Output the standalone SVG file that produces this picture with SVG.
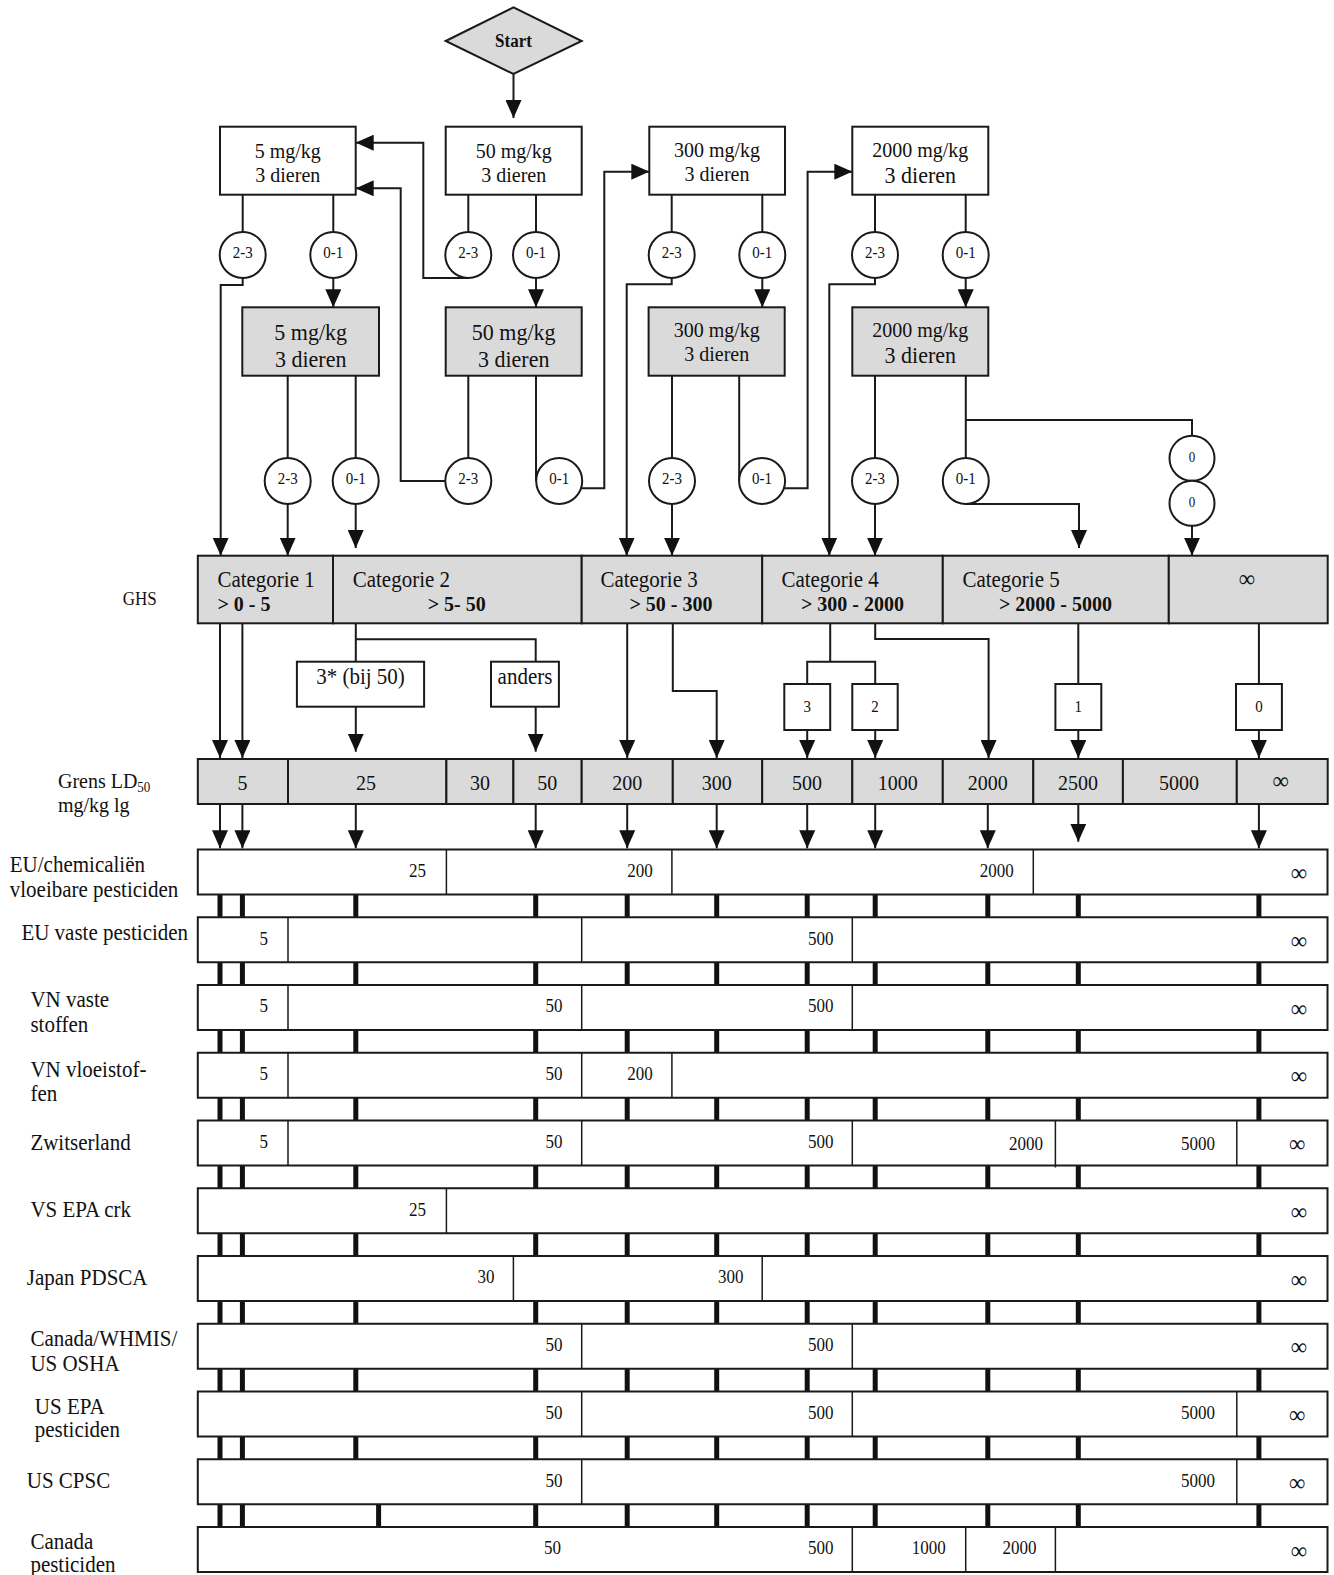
<svg xmlns="http://www.w3.org/2000/svg" xmlns:xlink="http://www.w3.org/1999/xlink" width="1334" height="1575" viewBox="0 0 1334 1575">
<style>
text { font-family: "Liberation Serif", "Times New Roman", serif; fill:#111; transform-box: fill-box; transform-origin: center; transform: scaleY(1.08); }
.m { text-anchor: middle; }
.e { text-anchor: end; }
.b { font-weight: bold; }
.f13 { font-size:13px; } .f15 { font-size:15px; } .f17 { font-size:17px; } .f18 { font-size:18px; }
.f20 { font-size:20px; } .f21 { font-size:21px; } .f22 { font-size:22px; }
.inf { font-size:23px; }
.box { fill:#fff; stroke:#1a1a1a; stroke-width:2; }
.gray { fill:#dadada; stroke:#1a1a1a; stroke-width:2; }
.c { fill:#fff; stroke:#1a1a1a; stroke-width:2; }
.ln { fill:none; stroke:#1a1a1a; stroke-width:2; }
.ar { fill:none; stroke:#1a1a1a; stroke-width:2; marker-end:url(#ah); }
.dv { stroke:#1a1a1a; stroke-width:1.5; }
.bar { fill:none; stroke:#111; stroke-width:5; }
</style>
<defs>
<marker id="ah" viewBox="0 0 18 16" refX="18" refY="8" markerWidth="18" markerHeight="16" markerUnits="userSpaceOnUse" orient="auto"><path d="M0,0L18,8L0,16z" fill="#111"/></marker>
<path id="bars1" class="bar" d="M220 0V22.75M242.4 0V22.75M355.8 0V22.75M535.7 0V22.75M627.2 0V22.75M716.7 0V22.75M807.2 0V22.75M875.2 0V22.75M987.8 0V22.75M1078.3 0V22.75M1258.9 0V22.75"/>
<path id="bars2" class="bar" d="M220 0V22.75M242.4 0V22.75M378.6 0V22.75M535.7 0V22.75M627.2 0V22.75M716.7 0V22.75M807.2 0V22.75M875.2 0V22.75M987.8 0V22.75M1078.3 0V22.75M1258.9 0V22.75"/>
</defs>
<rect width="1334" height="1575" fill="#fff"/>

<g id="connectors">
<path class="ar" d="M513.5 74V118"/>
<path class="ln" d="M242.7 194.7V232M333.3 194.7V232M468.3 194.7V232M536 194.7V232M671.7 194.7V232M762.3 194.7V232M875 194.7V232M965.7 194.7V232"/>
<path class="ar" d="M242.7 278V285H220.7V555.7"/>
<path class="ar" d="M333.3 278V307.3"/>
<path class="ar" d="M468.3 278H423.3V142.7H355.7"/>
<path class="ar" d="M536 278V307.3"/>
<path class="ar" d="M671.7 278V284.3H626.7V555.7"/>
<path class="ar" d="M762.3 278V307.3"/>
<path class="ar" d="M875 278V284.3H829.3V555.7"/>
<path class="ar" d="M965.7 278V307.3"/>
<path class="ln" d="M287.7 375.7V458M355.7 375.7V458M468.3 375.7V458M536 375.7V481M672 375.7V458M739.2 375.7V481M875 375.7V458M965.8 375.7V458M965.8 420H1192V435.8"/>
<path class="ar" d="M287.7 504V555.7"/>
<path class="ar" d="M355.7 504V548"/>
<path class="ar" d="M445.3 481H400.7V188.3H355.7"/>
<path class="ar" d="M581.5 488.3H604.3V171.7H649.3"/>
<path class="ar" d="M672 504V555.7"/>
<path class="ar" d="M784.2 488.3H807.6V171.7H852.3"/>
<path class="ar" d="M875 504V555.7"/>
<path class="ar" d="M965.8 504H1079V548"/>
<path class="ar" d="M1192 525.8V555.7"/>
<path class="ar" d="M220 623.3V758"/>
<path class="ar" d="M242.4 623.3V758"/>
<path class="ln" d="M355.8 623.3V661.7M355.8 639.3H535.7V661.7"/>
<path class="ar" d="M355.8 706.7V751.7"/>
<path class="ar" d="M535.7 706.7V751.7"/>
<path class="ar" d="M627.2 623.3V758"/>
<path class="ar" d="M672.8 623.3V691H716.7V758"/>
<path class="ln" d="M830.2 623.3V661.7M807.2 684V661.7H875.2V684"/>
<path class="ar" d="M807.2 730V758"/>
<path class="ar" d="M875.2 730V758"/>
<path class="ar" d="M875.2 623.3V639H988.6V758"/>
<path class="ln" d="M1078.3 623.3V684M1258.9 623.3V684"/>
<path class="ar" d="M1078.3 730V758"/>
<path class="ar" d="M1258.9 730V758"/>
<path class="ar" d="M220 804V848.3"/>
<path class="ar" d="M242.4 804V848.3"/>
<path class="ar" d="M355.8 804V848.3"/>
<path class="ar" d="M535.7 804V848.3"/>
<path class="ar" d="M627.2 804V848.3"/>
<path class="ar" d="M716.7 804V848.3"/>
<path class="ar" d="M807.2 804V848.3"/>
<path class="ar" d="M875.2 804V848.3"/>
<path class="ar" d="M987.8 804V848.3"/>
<path class="ar" d="M1078.3 804V841.7"/>
<path class="ar" d="M1258.9 804V848.3"/>
</g>

<g id="bars">
<use xlink:href="#bars1" y="894.5"/>
<use xlink:href="#bars1" y="962.25"/>
<use xlink:href="#bars1" y="1030"/>
<use xlink:href="#bars1" y="1097.75"/>
<use xlink:href="#bars1" y="1165.5"/>
<use xlink:href="#bars1" y="1233.25"/>
<use xlink:href="#bars1" y="1301"/>
<use xlink:href="#bars1" y="1368.75"/>
<use xlink:href="#bars1" y="1436.5"/>
<use xlink:href="#bars2" y="1504.25"/>
</g>

<g id="start">
<polygon class="gray" points="445.7,41 513.5,7.3 581.7,41 513.5,74"/>
<text class="f17 b m" x="513.5" y="46.7">Start</text>
</g>

<g id="n5">
<rect class="box" x="220" y="126.7" width="135.7" height="68"/>
<text class="f20 m" x="287.8" y="157">5 mg/kg</text>
<text class="f20 m" x="287.8" y="181">3 dieren</text>
</g>
<g id="n50">
<rect class="box" x="445.7" y="126.7" width="136" height="68"/>
<text class="f20 m" x="513.7" y="157">50 mg/kg</text>
<text class="f20 m" x="513.7" y="181">3 dieren</text>
</g>
<g id="n300">
<rect class="box" x="649.3" y="126.7" width="135.7" height="68"/>
<text class="f20 m" x="717" y="156.5">300 mg/kg</text>
<text class="f20 m" x="717" y="180.5">3 dieren</text>
</g>
<g id="n2000">
<rect class="box" x="852.3" y="126.7" width="136" height="68"/>
<text class="f20 m" x="920.3" y="156.5">2000 mg/kg</text>
<text class="f22 m" x="920.3" y="182">3 dieren</text>
</g>

<g id="g5">
<rect class="gray" x="242.3" y="307.3" width="136.7" height="68.4"/>
<text class="f22 m" x="310.7" y="339">5 mg/kg</text>
<text class="f22 m" x="310.7" y="366">3 dieren</text>
</g>
<g id="g50">
<rect class="gray" x="445.7" y="307.3" width="136" height="68.4"/>
<text class="f22 m" x="513.7" y="339">50 mg/kg</text>
<text class="f22 m" x="513.7" y="366">3 dieren</text>
</g>
<g id="g300">
<rect class="gray" x="648.6" y="307.3" width="136.1" height="68.4"/>
<text class="f20 m" x="716.7" y="336.5">300 mg/kg</text>
<text class="f20 m" x="716.7" y="360.5">3 dieren</text>
</g>
<g id="g2000">
<rect class="gray" x="852.3" y="307.3" width="136" height="68.4"/>
<text class="f20 m" x="920.3" y="336">2000 mg/kg</text>
<text class="f22 m" x="920.3" y="362">3 dieren</text>
</g>

<g id="circles-top">
<circle class="c" cx="242.7" cy="255" r="23"/><text class="f15 m" x="242.7" y="258">2-3</text>
<circle class="c" cx="333.3" cy="255" r="23"/><text class="f15 m" x="333.3" y="258">0-1</text>
<circle class="c" cx="468.3" cy="255" r="23"/><text class="f15 m" x="468.3" y="258">2-3</text>
<circle class="c" cx="536" cy="255" r="23"/><text class="f15 m" x="536" y="258">0-1</text>
<circle class="c" cx="671.7" cy="255" r="23"/><text class="f15 m" x="671.7" y="258">2-3</text>
<circle class="c" cx="762.3" cy="255" r="23"/><text class="f15 m" x="762.3" y="258">0-1</text>
<circle class="c" cx="875" cy="255" r="23"/><text class="f15 m" x="875" y="258">2-3</text>
<circle class="c" cx="965.7" cy="255" r="23"/><text class="f15 m" x="965.7" y="258">0-1</text>
</g>
<g id="circles-bottom">
<circle class="c" cx="287.7" cy="481" r="23"/><text class="f15 m" x="287.7" y="484">2-3</text>
<circle class="c" cx="355.7" cy="481" r="23"/><text class="f15 m" x="355.7" y="484">0-1</text>
<circle class="c" cx="468.3" cy="481" r="23"/><text class="f15 m" x="468.3" y="484">2-3</text>
<circle class="c" cx="559.2" cy="481" r="23"/><text class="f15 m" x="559.2" y="484">0-1</text>
<circle class="c" cx="672" cy="481" r="23"/><text class="f15 m" x="672" y="484">2-3</text>
<circle class="c" cx="762.1" cy="481" r="23"/><text class="f15 m" x="762.1" y="484">0-1</text>
<circle class="c" cx="875" cy="481" r="23"/><text class="f15 m" x="875" y="484">2-3</text>
<circle class="c" cx="965.8" cy="481" r="23"/><text class="f15 m" x="965.8" y="484">0-1</text>
<circle class="c" cx="1192" cy="458.3" r="22.5"/><text class="f13 m" x="1192" y="461.5">0</text>
<circle class="c" cx="1192" cy="503.3" r="22.5"/><text class="f13 m" x="1192" y="506.5">0</text>
</g>

<g id="ghs">
<text class="f17" x="122.8" y="605">GHS</text>
<rect class="gray" x="197.8" y="555.7" width="135.2" height="67.6"/>
<rect class="gray" x="333" y="555.7" width="248.7" height="67.6"/>
<rect class="gray" x="581.7" y="555.7" width="180.5" height="67.6"/>
<rect class="gray" x="762.2" y="555.7" width="180.6" height="67.6"/>
<rect class="gray" x="942.8" y="555.7" width="226" height="67.6"/>
<rect class="gray" x="1168.8" y="555.7" width="158.9" height="67.6"/>
<text class="f21" x="217.4" y="586.7">Categorie 1</text>
<text class="f20 b" x="217.4" y="610">&gt; 0 - 5</text>
<text class="f21" x="352.7" y="586.7">Categorie 2</text>
<text class="f20 b" x="427.7" y="610">&gt; 5- 50</text>
<text class="f21" x="600.4" y="586.7">Categorie 3</text>
<text class="f20 b" x="629.5" y="610">&gt; 50 - 300</text>
<text class="f21" x="781.4" y="586.7">Categorie 4</text>
<text class="f20 b" x="801" y="610">&gt; 300 - 2000</text>
<text class="f21" x="962.4" y="586.7">Categorie 5</text>
<text class="f20 b" x="999" y="610">&gt; 2000 - 5000</text>
<text class="inf m" x="1247" y="586">∞</text>
</g>

<g id="splits">
<rect class="box" x="296.9" y="661.7" width="127.2" height="45"/>
<text class="f21 m" x="360.5" y="683">3* (bij 50)</text>
<rect class="box" x="491" y="661.7" width="67.9" height="45"/>
<text class="f21 m" x="525" y="683">anders</text>
<rect class="box" x="784.3" y="684" width="45.9" height="46"/>
<text class="f15 m" x="807.2" y="711.7">3</text>
<rect class="box" x="852.3" y="684" width="45.4" height="46"/>
<text class="f15 m" x="875" y="711.7">2</text>
<rect class="box" x="1055.4" y="684" width="45.9" height="46"/>
<text class="f15 m" x="1078.3" y="711.7">1</text>
<rect class="box" x="1236" y="684" width="45.9" height="46"/>
<text class="f15 m" x="1258.9" y="711.7">0</text>
</g>

<g id="ld50">
<text class="f20" x="58" y="788">Grens LD<tspan class="f13" dy="3">50</tspan></text>
<text class="f20" x="58" y="811.7">mg/kg lg</text>
<rect class="gray" x="197.8" y="759" width="90.2" height="45"/>
<rect class="gray" x="288" y="759" width="158.4" height="45"/>
<rect class="gray" x="446.4" y="759" width="67" height="45"/>
<rect class="gray" x="513.4" y="759" width="68.3" height="45"/>
<rect class="gray" x="581.7" y="759" width="91.1" height="45"/>
<rect class="gray" x="672.8" y="759" width="89.4" height="45"/>
<rect class="gray" x="762.2" y="759" width="90.1" height="45"/>
<rect class="gray" x="852.3" y="759" width="90.5" height="45"/>
<rect class="gray" x="942.8" y="759" width="90.5" height="45"/>
<rect class="gray" x="1033.3" y="759" width="89.6" height="45"/>
<rect class="gray" x="1122.9" y="759" width="113.9" height="45"/>
<rect class="gray" x="1236.8" y="759" width="90.9" height="45"/>
<text class="f20 m" x="242.4" y="789">5</text>
<text class="f20 m" x="366" y="789">25</text>
<text class="f20 m" x="480" y="789">30</text>
<text class="f20 m" x="547.3" y="789">50</text>
<text class="f20 m" x="627.2" y="789">200</text>
<text class="f20 m" x="716.7" y="789">300</text>
<text class="f20 m" x="807" y="789">500</text>
<text class="f20 m" x="897.7" y="789">1000</text>
<text class="f20 m" x="987.8" y="789">2000</text>
<text class="f20 m" x="1078" y="789">2500</text>
<text class="f20 m" x="1179" y="789">5000</text>
<text class="inf m" x="1280.6" y="788">∞</text>
</g>

<g id="r1">
<text class="f21" x="9.8" y="871.7">EU/chemicaliën</text>
<text class="f21" x="9.8" y="896">vloeibare pesticiden</text>
<rect class="box" x="197.8" y="849.5" width="1129.7" height="45"/>
<path class="dv" d="M446.4 849.5v45M671.9 849.5v45M1033.3 849.5v45"/>
<text class="f17 e" x="426" y="876.5">25</text>
<text class="f17 e" x="652.7" y="876.5">200</text>
<text class="f17 e" x="1013.7" y="876.5">2000</text>
<text class="inf m" x="1299" y="880.5">∞</text>
</g>
<g id="r2">
<text class="f21" x="21.4" y="939.3">EU vaste pesticiden</text>
<rect class="box" x="197.8" y="917.25" width="1129.7" height="45"/>
<path class="dv" d="M288 917.25v45M581.7 917.25v45M852.3 917.25v45"/>
<text class="f17 e" x="268" y="944.25">5</text>
<text class="f17 e" x="833.5" y="944.25">500</text>
<text class="inf m" x="1299" y="948.25">∞</text>
</g>
<g id="r3">
<text class="f21" x="30.4" y="1006.7">VN vaste</text>
<text class="f21" x="30.4" y="1031.7">stoffen</text>
<rect class="box" x="197.8" y="985" width="1129.7" height="45"/>
<path class="dv" d="M288 985v45M581.7 985v45M852.3 985v45"/>
<text class="f17 e" x="268" y="1012">5</text>
<text class="f17 e" x="562.5" y="1012">50</text>
<text class="f17 e" x="833.5" y="1012">500</text>
<text class="inf m" x="1299" y="1016">∞</text>
</g>
<g id="r4">
<text class="f21" x="30.4" y="1076.7">VN vloeistof-</text>
<text class="f21" x="30.4" y="1100">fen</text>
<rect class="box" x="197.8" y="1052.75" width="1129.7" height="45"/>
<path class="dv" d="M288 1052.75v45M581.7 1052.75v45M671.9 1052.75v45"/>
<text class="f17 e" x="268" y="1079.75">5</text>
<text class="f17 e" x="562.5" y="1079.75">50</text>
<text class="f17 e" x="652.7" y="1079.75">200</text>
<text class="inf m" x="1299" y="1083.75">∞</text>
</g>
<g id="r5">
<text class="f21" x="30.4" y="1149.3">Zwitserland</text>
<rect class="box" x="197.8" y="1120.5" width="1129.7" height="45"/>
<path class="dv" d="M288 1120.5v45M581.7 1120.5v45M852.3 1120.5v45M1055.4 1120.5v47M1236.8 1120.5v45"/>
<text class="f17 e" x="268" y="1147.5">5</text>
<text class="f17 e" x="562.5" y="1147.5">50</text>
<text class="f17 e" x="833.5" y="1147.5">500</text>
<text class="f17 e" x="1042.9" y="1150">2000</text>
<text class="f17 e" x="1215.1" y="1150">5000</text>
<text class="inf m" x="1297.3" y="1151.5">∞</text>
</g>
<g id="r6">
<text class="f21" x="30.4" y="1216.7">VS EPA crk</text>
<rect class="box" x="197.8" y="1188.25" width="1129.7" height="45"/>
<path class="dv" d="M446.4 1188.25v45"/>
<text class="f17 e" x="426" y="1215.25">25</text>
<text class="inf m" x="1299" y="1219.25">∞</text>
</g>
<g id="r7">
<text class="f21" x="26.8" y="1284.3">Japan PDSCA</text>
<rect class="box" x="197.8" y="1256" width="1129.7" height="45"/>
<path class="dv" d="M513.4 1256v45M762.2 1256v45"/>
<text class="f17 e" x="494.6" y="1283">30</text>
<text class="f17 e" x="743.4" y="1283">300</text>
<text class="inf m" x="1299" y="1287">∞</text>
</g>
<g id="r8">
<text class="f21" x="30.4" y="1345">Canada/WHMIS/</text>
<text class="f21" x="30.4" y="1370">US OSHA</text>
<rect class="box" x="197.8" y="1323.75" width="1129.7" height="45"/>
<path class="dv" d="M581.7 1323.75v45M852.3 1323.75v45"/>
<text class="f17 e" x="562.5" y="1350.75">50</text>
<text class="f17 e" x="833.5" y="1350.75">500</text>
<text class="inf m" x="1299" y="1354.75">∞</text>
</g>
<g id="r9">
<text class="f21" x="34.8" y="1413.3">US EPA</text>
<text class="f21" x="34.8" y="1436.7">pesticiden</text>
<rect class="box" x="197.8" y="1391.5" width="1129.7" height="45"/>
<path class="dv" d="M581.7 1391.5v45M852.3 1391.5v45M1236.8 1391.5v45"/>
<text class="f17 e" x="562.5" y="1418.5">50</text>
<text class="f17 e" x="833.5" y="1418.5">500</text>
<text class="f17 e" x="1215.1" y="1418.5">5000</text>
<text class="inf m" x="1297.3" y="1422.5">∞</text>
</g>
<g id="r10">
<text class="f21" x="26.8" y="1487.3">US CPSC</text>
<rect class="box" x="197.8" y="1459.25" width="1129.7" height="45"/>
<path class="dv" d="M581.7 1459.25v45M1236.8 1459.25v45"/>
<text class="f17 e" x="562.5" y="1486.25">50</text>
<text class="f17 e" x="1215.1" y="1486.25">5000</text>
<text class="inf m" x="1297.3" y="1490.25">∞</text>
</g>
<g id="r11">
<text class="f21" x="30.4" y="1548.3">Canada</text>
<text class="f21" x="30.4" y="1571.7">pesticiden</text>
<rect class="box" x="197.8" y="1527" width="1129.7" height="45"/>
<path class="dv" d="M852.3 1527v45M965.7 1527v45M1055.4 1527v45"/>
<text class="f17 e" x="561" y="1554">50</text>
<text class="f17 e" x="833.5" y="1554">500</text>
<text class="f17 e" x="945.7" y="1554">1000</text>
<text class="f17 e" x="1036.6" y="1554">2000</text>
<text class="inf m" x="1299" y="1558">∞</text>
</g>
</svg>
